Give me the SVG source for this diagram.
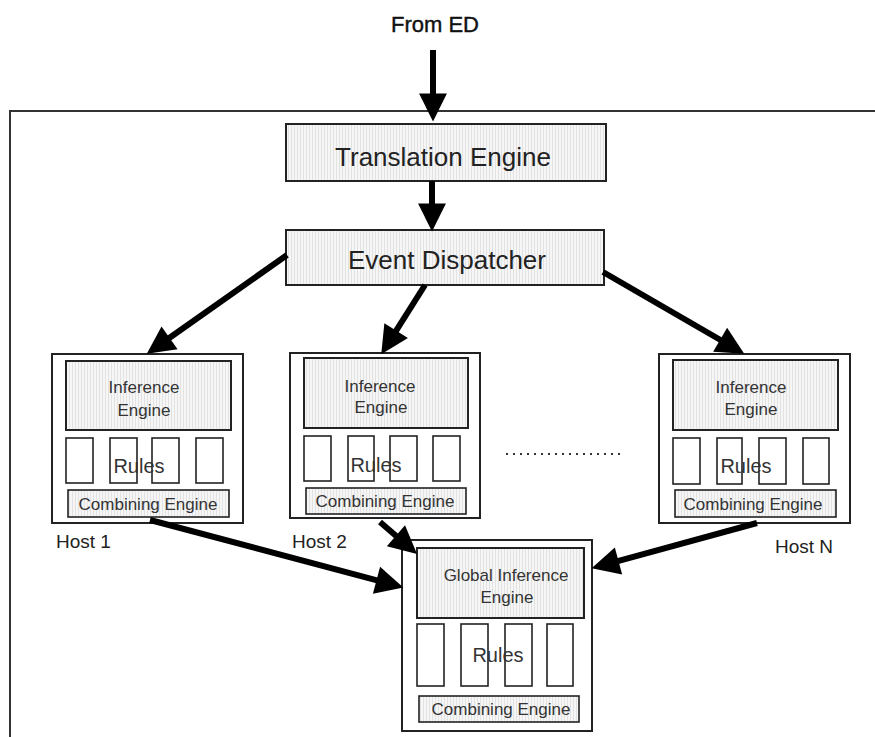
<svg xmlns="http://www.w3.org/2000/svg" width="875" height="737" viewBox="0 0 875 737">
<defs>
  <pattern id="dots" width="3" height="3" patternUnits="userSpaceOnUse">
    <rect width="3" height="3" fill="#f6f6f6"/>
    <rect width="1" height="3" fill="#e2e2e2"/>
  </pattern>
  <marker id="ah" markerUnits="userSpaceOnUse" markerWidth="30" markerHeight="30" viewBox="0 -14 27 28" refX="6" refY="0" orient="auto">
    <path d="M0,-13 L26,0 L0,13 Z" fill="#000"/>
  </marker>
  <style>
    text { font-family: "Liberation Sans", Arial, sans-serif; fill: #222; }
    .shade { fill: url(#dots); stroke: #222; stroke-width: 2; }
    .frame { fill: #fff; stroke: #222; stroke-width: 2; }
    .rule { fill: #fff; stroke: #222; stroke-width: 1.6; }
    .comb { fill: url(#dots); stroke: #222; stroke-width: 1.6; }
    .big { font-size: 26px; text-anchor: middle; }
    .ie { font-size: 17px; text-anchor: middle; fill: #333; }
    .rl { font-size: 20px; text-anchor: middle; fill: #333; }
    .ce { font-size: 17px; text-anchor: middle; fill: #333; }
    .host { font-size: 19px; }
    .conn { stroke: #000; stroke-width: 6; fill: none; marker-end: url(#ah); }
  </style>
</defs>

<path d="M10,740 V111 H880" fill="none" stroke="#333" stroke-width="2"/>

<text x="435" y="32" font-size="22" text-anchor="middle" style="fill:#111;stroke:#111;stroke-width:0.4">From ED</text>

<g id="translation-engine">
  <rect class="shade" x="286" y="124" width="320" height="57"/>
  <text class="big" x="443" y="166">Translation Engine</text>
</g>

<g id="event-dispatcher">
  <rect class="shade" x="286" y="230" width="318" height="55"/>
  <text class="big" x="447" y="269">Event Dispatcher</text>
</g>

<g id="host1">
  <rect class="frame" x="52" y="354" width="191" height="169"/>
  <rect class="shade" x="66" y="361" width="165" height="69"/>
  <text class="ie" x="144" y="393">Inference</text>
  <text class="ie" x="144" y="416">Engine</text>
  <rect class="rule" x="66" y="438" width="27" height="45"/>
  <rect class="rule" x="110" y="438" width="27" height="45"/>
  <rect class="rule" x="152" y="438" width="27" height="45"/>
  <rect class="rule" x="196" y="438" width="27" height="45"/>
  <text class="rl" x="139" y="473">Rules</text>
  <rect class="comb" x="68" y="490" width="161" height="27"/>
  <text class="ce" x="148" y="510">Combining Engine</text>
  <text class="host" x="56" y="548">Host 1</text>
</g>

<g id="host2">
  <rect class="frame" x="290" y="353" width="190" height="165"/>
  <rect class="shade" x="304" y="358" width="164" height="70"/>
  <text class="ie" x="380" y="392">Inference</text>
  <text class="ie" x="381" y="413">Engine</text>
  <rect class="rule" x="304" y="436" width="27" height="45"/>
  <rect class="rule" x="348" y="436" width="26" height="45"/>
  <rect class="rule" x="390" y="436" width="27" height="45"/>
  <rect class="rule" x="433" y="436" width="27" height="45"/>
  <text class="rl" x="376" y="472">Rules</text>
  <rect class="comb" x="306" y="488" width="160" height="26"/>
  <text class="ce" x="385" y="507">Combining Engine</text>
  <text class="host" x="292" y="548">Host 2</text>
</g>

<line x1="506" y1="454" x2="620" y2="454" stroke="#333" stroke-width="2" stroke-dasharray="2 5"/>

<g id="hostN">
  <rect class="frame" x="659" y="354" width="191" height="169"/>
  <rect class="shade" x="673" y="360" width="165" height="70"/>
  <text class="ie" x="751" y="393">Inference</text>
  <text class="ie" x="751" y="415">Engine</text>
  <rect class="rule" x="673" y="438" width="27" height="46"/>
  <rect class="rule" x="717" y="438" width="25" height="46"/>
  <rect class="rule" x="759" y="438" width="27" height="46"/>
  <rect class="rule" x="803" y="438" width="26" height="46"/>
  <text class="rl" x="746" y="473">Rules</text>
  <rect class="comb" x="675" y="490" width="161" height="27"/>
  <text class="ce" x="753" y="510">Combining Engine</text>
  <text class="host" x="775" y="553">Host N</text>
</g>

<g id="global">
  <rect class="frame" x="402" y="540" width="190" height="191"/>
  <rect class="shade" x="417" y="548" width="167" height="70"/>
  <text class="ie" x="506" y="581">Global Inference</text>
  <text class="ie" x="507" y="603">Engine</text>
  <rect class="rule" x="417" y="624" width="27" height="62"/>
  <rect class="rule" x="461" y="624" width="27" height="62"/>
  <rect class="rule" x="505" y="624" width="27" height="62"/>
  <rect class="rule" x="547" y="624" width="26" height="62"/>
  <text class="rl" x="498" y="662" font-size="22">Rules</text>
  <rect class="comb" x="419" y="696" width="160" height="26"/>
  <text class="ce" x="501" y="715">Combining Engine</text>
</g>

<g id="connectors">
  <line class="conn" x1="433" y1="50" x2="433" y2="100"/>
  <line class="conn" x1="432" y1="181" x2="432" y2="210"/>
  <line class="conn" x1="287" y1="255" x2="164.3" y2="341.5"/>
  <line class="conn" x1="425" y1="285" x2="392.7" y2="336.1"/>
  <line class="conn" x1="603" y1="272" x2="725.7" y2="343"/>
  <line class="conn" x1="150" y1="520" x2="382.7" y2="581.9"/>
  <line class="conn" x1="380" y1="522" x2="400.8" y2="539.9"/>
  <line class="conn" x1="757" y1="523" x2="612.3" y2="562.7"/>
</g>
</svg>
